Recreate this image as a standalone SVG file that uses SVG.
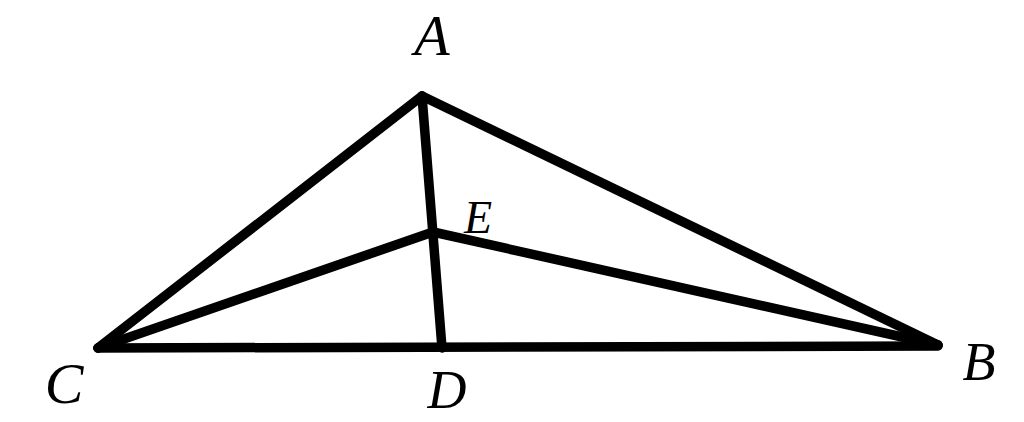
<svg xmlns="http://www.w3.org/2000/svg" width="1024" height="422" viewBox="0 0 1024 422">
<style>
.seg{stroke:#000;stroke-width:9.5;stroke-linecap:round;fill:none}
.lbl{font-family:"Liberation Serif","DejaVu Serif",serif;font-style:italic;fill:#000}
</style>
<rect width="1024" height="422" fill="#fff"/>
<g id="connectors">
<line class="seg" x1="422" y1="96" x2="98" y2="348"/>
<line class="seg" x1="422" y1="96" x2="938" y2="345"/>
<line class="seg" x1="98" y1="348" x2="938" y2="346"/>
<line class="seg" x1="422" y1="96" x2="442" y2="348"/>
<line class="seg" x1="98" y1="348" x2="433" y2="232"/>
<line class="seg" x1="433" y1="232" x2="938" y2="345"/>
</g>
<g id="node-A"><text class="lbl" x="432" y="55" font-size="58" text-anchor="middle">A</text></g>
<g id="node-E"><text class="lbl" x="478" y="233" font-size="46" text-anchor="middle">E</text></g>
<g id="node-C"><text class="lbl" x="64" y="403" font-size="58" text-anchor="middle">C</text></g>
<g id="node-D"><text class="lbl" x="447" y="408" font-size="54" text-anchor="middle">D</text></g>
<g id="node-B"><text class="lbl" x="979" y="380" font-size="54" text-anchor="middle">B</text></g>
</svg>
